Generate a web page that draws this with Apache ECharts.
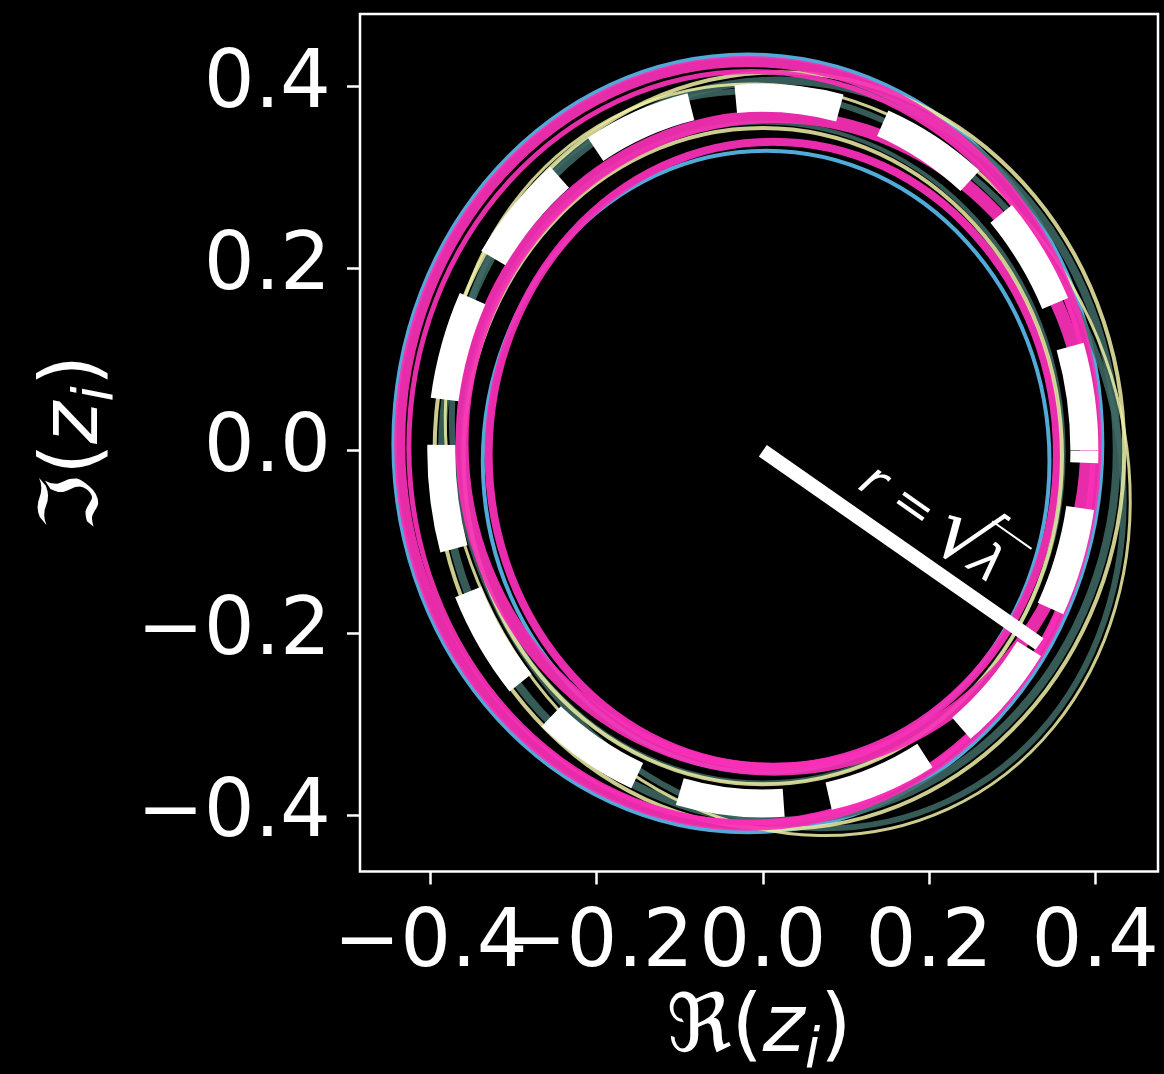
<!DOCTYPE html>
<html><head><meta charset="utf-8">
<script src="https://cdn.jsdelivr.net/npm/echarts@6/dist/echarts.min.js"></script>
<style>html,body{margin:0;padding:0;background:#000;} #c{width:1164px;height:1074px;}</style>
</head><body><div id="c"></div>
<script>
// ---- axis values ----
const xTicks = [-0.4, -0.2, 0.0, 0.2, 0.4];
const xLabelsA = [-0.4, 0.0, 0.4];
const xLabelsB = [-0.2, 0.2];
const yTicks = [-0.4, -0.2, 0.0, 0.2, 0.4];
const xRange = [-0.4848, 0.4756];
const yRange = [-0.4616, 0.479];

// ---- trajectory rings ----
// each ring: [centre Re, centre Im, semi-axis a, semi-axis b, tilt (deg)]
const blueRings = [
  [-0.018, 0.008, 0.426, 0.426, 0],
  [0.004, -0.012, 0.341, 0.341, 0]
];
const pinkInnerRings = [
  [0.012, -0.004, 0.342, 0.343, 0]
];
const tealRings = [
  [0.02, 0.0, 0.406, 0.406, 0],
  [0.03, -0.01, 0.426, 0.381, -45],
  [0.0, -0.002, 0.362, 0.362, 0]
];
const yellowRings = [
  [0.02, 0.0, 0.415, 0.415, 0],
  [0.03, -0.01, 0.434, 0.389, -45],
  [0.0, -0.006, 0.36, 0.36, 0]
];
const pinkRings = [
  [-0.018, 0.008, 0.419, 0.419, 0],
  [-0.014, 0.004, 0.412, 0.412, 0],
  [0.014, 0.0085, 0.376, 0.358, 0]
];
const sqrtLambda = 0.387;
const dashedCircle = [[0, 0, sqrtLambda, sqrtLambda, 0]];
const radiusLine = [[0, 0], [0.333, -0.212]];
const radiusLabelPos = [[0.216, -0.079]];

// ---- styles ----
const ringStyle = {
  blue:      { color: '#55b3e3', widths: [5, 4],     opacity: 0.95 },
  pinkInner: { color: '#f52db6', widths: [8],        opacity: 0.95 },
  teal:      { color: '#3f6a64', widths: [8, 6, 4],  opacity: 0.85 },
  yellow:    { color: '#eef0a6', widths: [4, 3, 4],  opacity: 0.85 },
  pink:      { color: '#f92fb7', widths: [11, 5, 13], opacity: 0.93 }
};
const FONT = 'DejaVu Sans';

function ellipseOnScreen(api, cx, cy, a, b, tiltDeg) {
  const c = api.coord([cx, cy]);
  const s = api.size([1, 1]);
  const sx = s[0], sy = s[1];
  const t = tiltDeg * Math.PI / 180;
  const ct = Math.cos(t), st = Math.sin(t);
  const a11 = sx * a * ct, a12 = -sx * b * st;
  const a21 = -sy * a * st, a22 = -sy * b * ct;
  const p = a11 * a11 + a12 * a12, r = a21 * a21 + a22 * a22, q = a11 * a21 + a12 * a22;
  const m = (p + r) / 2, d = Math.sqrt(((p - r) / 2) * ((p - r) / 2) + q * q);
  const phi = 0.5 * Math.atan2(2 * q, p - r);
  return { x: c[0], y: c[1], rotation: -phi, rx: Math.sqrt(m + d), ry: Math.sqrt(Math.max(m - d, 0)) };
}

function ringSeries(data, st, z) {
  return {
    type: 'custom', coordinateSystem: 'cartesian2d', data: data, z: z, silent: true,
    encode: { x: 0, y: 1 },
    renderItem: function (params, api) {
      const e = ellipseOnScreen(api, api.value(0), api.value(1), api.value(2), api.value(3), api.value(4));
      return {
        type: 'ellipse', x: e.x, y: e.y, rotation: e.rotation,
        shape: { cx: 0, cy: 0, rx: e.rx, ry: e.ry },
        style: { fill: 'none', stroke: st.color, lineWidth: st.widths[params.dataIndex], opacity: st.opacity }
      };
    }
  };
}

const fmt = v => (v < -1e-9 ? '\u2212' : '') + Math.abs(v).toFixed(1);
const nameRich = {
  f: { fontSize: 80, fontFamily: FONT, color: '#fff', lineHeight: 100 },
  z: { fontSize: 80, fontFamily: FONT, fontStyle: 'italic', color: '#fff', lineHeight: 100 },
  s: { fontSize: 56, fontFamily: FONT, fontStyle: 'italic', color: '#fff', lineHeight: 56, verticalAlign: 'bottom' }
};
const labelBase = { formatter: fmt, color: '#fff', fontSize: 80, fontFamily: FONT, hideOverlap: false };

const chart = echarts.init(document.getElementById('c'), null, { renderer: 'canvas' });
chart.setOption({
  backgroundColor: '#000',
  animation: false,
  grid: { left: 360, right: 6, top: 14, bottom: 202.5, show: true, borderColor: '#fff', borderWidth: 2.5,
          backgroundColor: 'transparent', containLabel: false, outerBoundsMode: 'none' },
  xAxis: [{
    type: 'value', min: xRange[0], max: xRange[1], position: 'bottom',
    splitLine: { show: false }, axisLine: { show: false, onZero: false },
    axisTick: { show: true, length: 13, lineStyle: { color: '#fff', width: 2.5 }, customValues: xTicks },
    axisLabel: Object.assign({ customValues: xLabelsA, margin: 34 }, labelBase),
    name: '{f|\u211C(}{z|z}{s|i}{f|)}', nameLocation: 'middle', nameGap: 106,
    nameTextStyle: { color: '#fff', fontSize: 80, fontFamily: FONT, rich: nameRich }
  }, {
    type: 'value', min: xRange[0], max: xRange[1], position: 'bottom', offset: 0,
    splitLine: { show: false }, axisLine: { show: false, onZero: false },
    axisTick: { show: false },
    axisLabel: Object.assign({ customValues: xLabelsB, margin: 34 }, labelBase)
  }],
  yAxis: {
    type: 'value', min: yRange[0], max: yRange[1],
    splitLine: { show: false }, axisLine: { show: false, onZero: false },
    axisTick: { show: true, length: 13, lineStyle: { color: '#fff', width: 2.5 }, customValues: yTicks },
    axisLabel: Object.assign({ customValues: yTicks, margin: 29, padding: [16, 0, 0, 0] }, labelBase),
    name: '{f|\u2111(}{z|z}{s|i}{f|)}', nameLocation: 'middle', nameGap: 233, nameRotate: 90,
    nameTextStyle: { color: '#fff', fontSize: 80, fontFamily: FONT, rich: nameRich }
  },
  series: [
    ringSeries(blueRings, ringStyle.blue, 2),
    ringSeries(pinkInnerRings, ringStyle.pinkInner, 3),
    ringSeries(tealRings, ringStyle.teal, 4),
    ringSeries(yellowRings, ringStyle.yellow, 5),
    ringSeries(pinkRings, ringStyle.pink, 6),
    {
      type: 'custom', coordinateSystem: 'cartesian2d', data: dashedCircle, z: 7, silent: true,
      encode: { x: 0, y: 1 },
      renderItem: function (params, api) {
        const c = api.coord([api.value(0), api.value(1)]);
        const s = api.size([api.value(2), api.value(3)]);
        return {
          type: 'ellipse', x: c[0], y: c[1], rotation: Math.PI,
          shape: { cx: 0, cy: 0, rx: s[0], ry: s[1] },
          style: { fill: 'none', stroke: '#fff', lineWidth: 28, lineDash: [105, 45.5], lineDashOffset: 93, lineCap: 'butt' }
        };
      }
    },
    {
      type: 'line', data: radiusLine, z: 8, silent: true, symbol: 'none',
      lineStyle: { color: '#fff', width: 14, cap: 'butt' }
    },
    {
      type: 'custom', coordinateSystem: 'cartesian2d', data: radiusLabelPos, z: 9, silent: true,
      encode: { x: 0, y: 1 },
      renderItem: function (params, api) {
        const p = api.coord([api.value(0), api.value(1)]);
        const base = { fontFamily: FONT, fill: '#fff', align: 'center', verticalAlign: 'middle' };
        return {
          type: 'group', x: p[0], y: p[1], rotation: -35.2 * Math.PI / 180,
          children: [
            { type: 'text', x: -80, y: 8, style: Object.assign({}, base, { text: 'r', fontSize: 50, fontStyle: 'italic' }) },
            { type: 'text', x: -33, y: 6, style: Object.assign({}, base, { text: '=', fontSize: 50 }) },
            { type: 'text', x: 26, y: 4, style: Object.assign({}, base, { text: '\u221A', fontSize: 86, fontWeight: 'normal' }) },
            { type: 'text', x: 60, y: 10, style: Object.assign({}, base, { text: '\u03BB', fontSize: 50, fontStyle: 'italic' }) },
            { type: 'line', shape: { x1: 40, y1: -30, x2: 88, y2: -30 }, style: { stroke: '#fff', lineWidth: 2 } }
          ]
        };
      }
    }
  ]
});
</script>
</body></html>
